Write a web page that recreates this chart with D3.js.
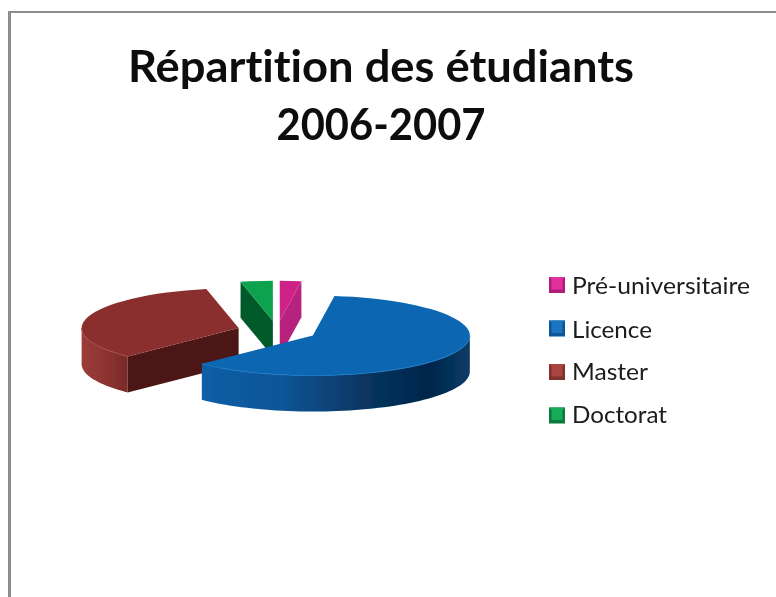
<!DOCTYPE html>
<html><head><meta charset="utf-8">
<script src="https://cdn.jsdelivr.net/npm/d3@7"></script>
<style>html,body{margin:0;padding:0;background:#fff;overflow:hidden}svg{display:block}</style>
</head><body><div id="chart"></div>
<script>
const categories = ["Pré-universitaire","Licence","Master","Doctorat"];
const values = [2.2,60.3,34.2,3.3];
const titleLines = ["Répartition des étudiants","2006-2007"];
const topColors = ["#cf2389","#0a66b2","#8b2f2d","#0ba24e"];
const faceColors = ["#b8207f","#0a4f8c","#4e1613","#005a2c"];
const legendColors = [["#e0329a","#b01e78"],["#1a74c0","#0d5596"],["#a8443f","#82302c"],["#14ac58","#087a3c"]];

const width=776,height=597;
const svg=d3.select("#chart").append("svg").attr("width",width).attr("height",height);
svg.append("rect").attr("x",8).attr("y",11).attr("width",width).attr("height",2).attr("fill","#8c8c8c");
svg.append("rect").attr("x",8).attr("y",11).attr("width",3).attr("height",height).attr("fill","#8c8c8c");

const defs=svg.append("defs");
defs.append("filter").attr("id","soft").append("feGaussianBlur").attr("stdDeviation",0.6);
defs.append("filter").attr("id","softText").append("feGaussianBlur").attr("stdDeviation",0.35);
function grad(id,stops){
  const g=defs.append("linearGradient").attr("id",id).attr("gradientUnits","objectBoundingBox");
  stops.forEach(s=>g.append("stop").attr("offset",s[0]).attr("stop-color",s[1]));
}
grad("rim1",[[0,"#0d5fa8"],[0.3,"#0b5596"],[0.62,"#07345f"],[0.85,"#00264a"],[1,"#0a3c68"]]);
grad("rim2",[[0,"#9c3c3a"],[0.6,"#8a3230"],[1,"#7a2a28"]]);

const cx=277,cy=331,rx=157,ry=40,depth=36,explode=0.255;
const pie=d3.pie().sort(null).value(d=>d).startAngle(0).endAngle(2*Math.PI);
const arcs=pie(values);
const arc=d3.arc().innerRadius(0).outerRadius(rx);
const px=(a,r=1)=>r*rx*Math.sin(a), py=(a,r=1)=>r*ry*-Math.cos(a);
const line=d3.line();

function rimPoints(a0,a1){
  const n=60,top=[],bot=[];
  const s=d3.scaleLinear().domain([0,n]).range([a0,a1]);
  d3.range(n+1).forEach(i=>{const a=s(i);top.push([px(a),py(a)]);bot.push([px(a),py(a)+depth]);});
  return top.concat(bot.reverse());
}
function topEdge(a0,a1){
  const n=60,s=d3.scaleLinear().domain([0,n]).range([a0,a1]);
  return d3.range(n+1).map(i=>[px(s(i)),py(s(i))]);
}
function face(a){return [[0,0],[px(a),py(a)],[px(a),py(a)+depth],[0,depth]];}

const chart=svg.append("g").attr("filter","url(#soft)");
const order=[3,0,2,1];
order.forEach(i=>{
  const d=arcs[i],mid=(d.startAngle+d.endAngle)/2;
  const g=chart.append("g").attr("transform",`translate(${cx+px(mid,explode)},${cy+py(mid,explode)})`);
  if(i===3) g.append("path").attr("d",line(face(d.startAngle))+"Z").attr("fill",faceColors[i]);
  if(i===0) g.append("path").attr("d",line(face(d.endAngle))+"Z").attr("fill",faceColors[i]);
  if(i===2){
    g.append("path").attr("d",line(rimPoints(d.startAngle,1.5*Math.PI))+"Z").attr("fill","url(#rim2)");
    g.append("path").attr("d",line(face(d.startAngle))+"Z").attr("fill",faceColors[i]);
  }
  if(i===1){
    g.append("path").attr("d",line(rimPoints(Math.PI/2,d.endAngle))+"Z").attr("fill","url(#rim1)");
  }
  g.append("path").attr("transform",`scale(1,${ry/rx})`).attr("d",arc(d)).attr("fill",topColors[i]);
  if(i===1) g.append("path").attr("d",line(topEdge(Math.PI/2,d.endAngle))).attr("fill","none").attr("stroke","#1f78c2").attr("stroke-width",1);
  if(i===2) g.append("path").attr("d",line(topEdge(d.startAngle,1.5*Math.PI))).attr("fill","none").attr("stroke","#a04844").attr("stroke-width",1);
});

const font="Lato, 'Open Sans', sans-serif";
const titleWidths=[506,209];
svg.selectAll("text.title").data(titleLines).join("text").attr("class","title")
  .attr("x",381).attr("y",(d,i)=>82+i*58).attr("text-anchor","middle")
  .attr("textLength",(d,i)=>titleWidths[i]).attr("lengthAdjust","spacingAndGlyphs")
  .style("font-variant-ligatures","none").attr("filter","url(#softText)")
  .attr("font-family",font).attr("font-weight",700).attr("font-size",43).attr("fill","#0c0c0c").text(d=>d);

const ly=d3.scalePoint().domain(categories).range([285,415.5]);
const legendWidths=[178,80,76,95];
const lg=svg.selectAll("g.leg").data(categories).join("g").attr("class","leg").attr("filter","url(#softText)");
lg.each(function(c,i){
  const s=16,x=549,y=ly(c)-8;
  const g=d3.select(this);
  g.append("rect").attr("x",x).attr("y",y).attr("width",s).attr("height",s).attr("fill",legendColors[i][1]);
  g.append("path").attr("d",line([[x,y],[x+s,y],[x+s-3,y+3],[x+3,y+3]])+"Z").attr("fill",legendColors[i][0]);
  g.append("rect").attr("x",x+2.5).attr("y",y+2.5).attr("width",s-5).attr("height",s-6).attr("fill",legendColors[i][0]);
  g.append("text").attr("x",572).attr("y",[293.5,337.5,380,423][i])
    .attr("textLength",legendWidths[i]).attr("lengthAdjust","spacingAndGlyphs")
    .style("font-variant-ligatures","none")
    .attr("font-family",font).attr("font-size",22.5).attr("fill","#1a1a1a").text(c);
});
</script></body></html>
